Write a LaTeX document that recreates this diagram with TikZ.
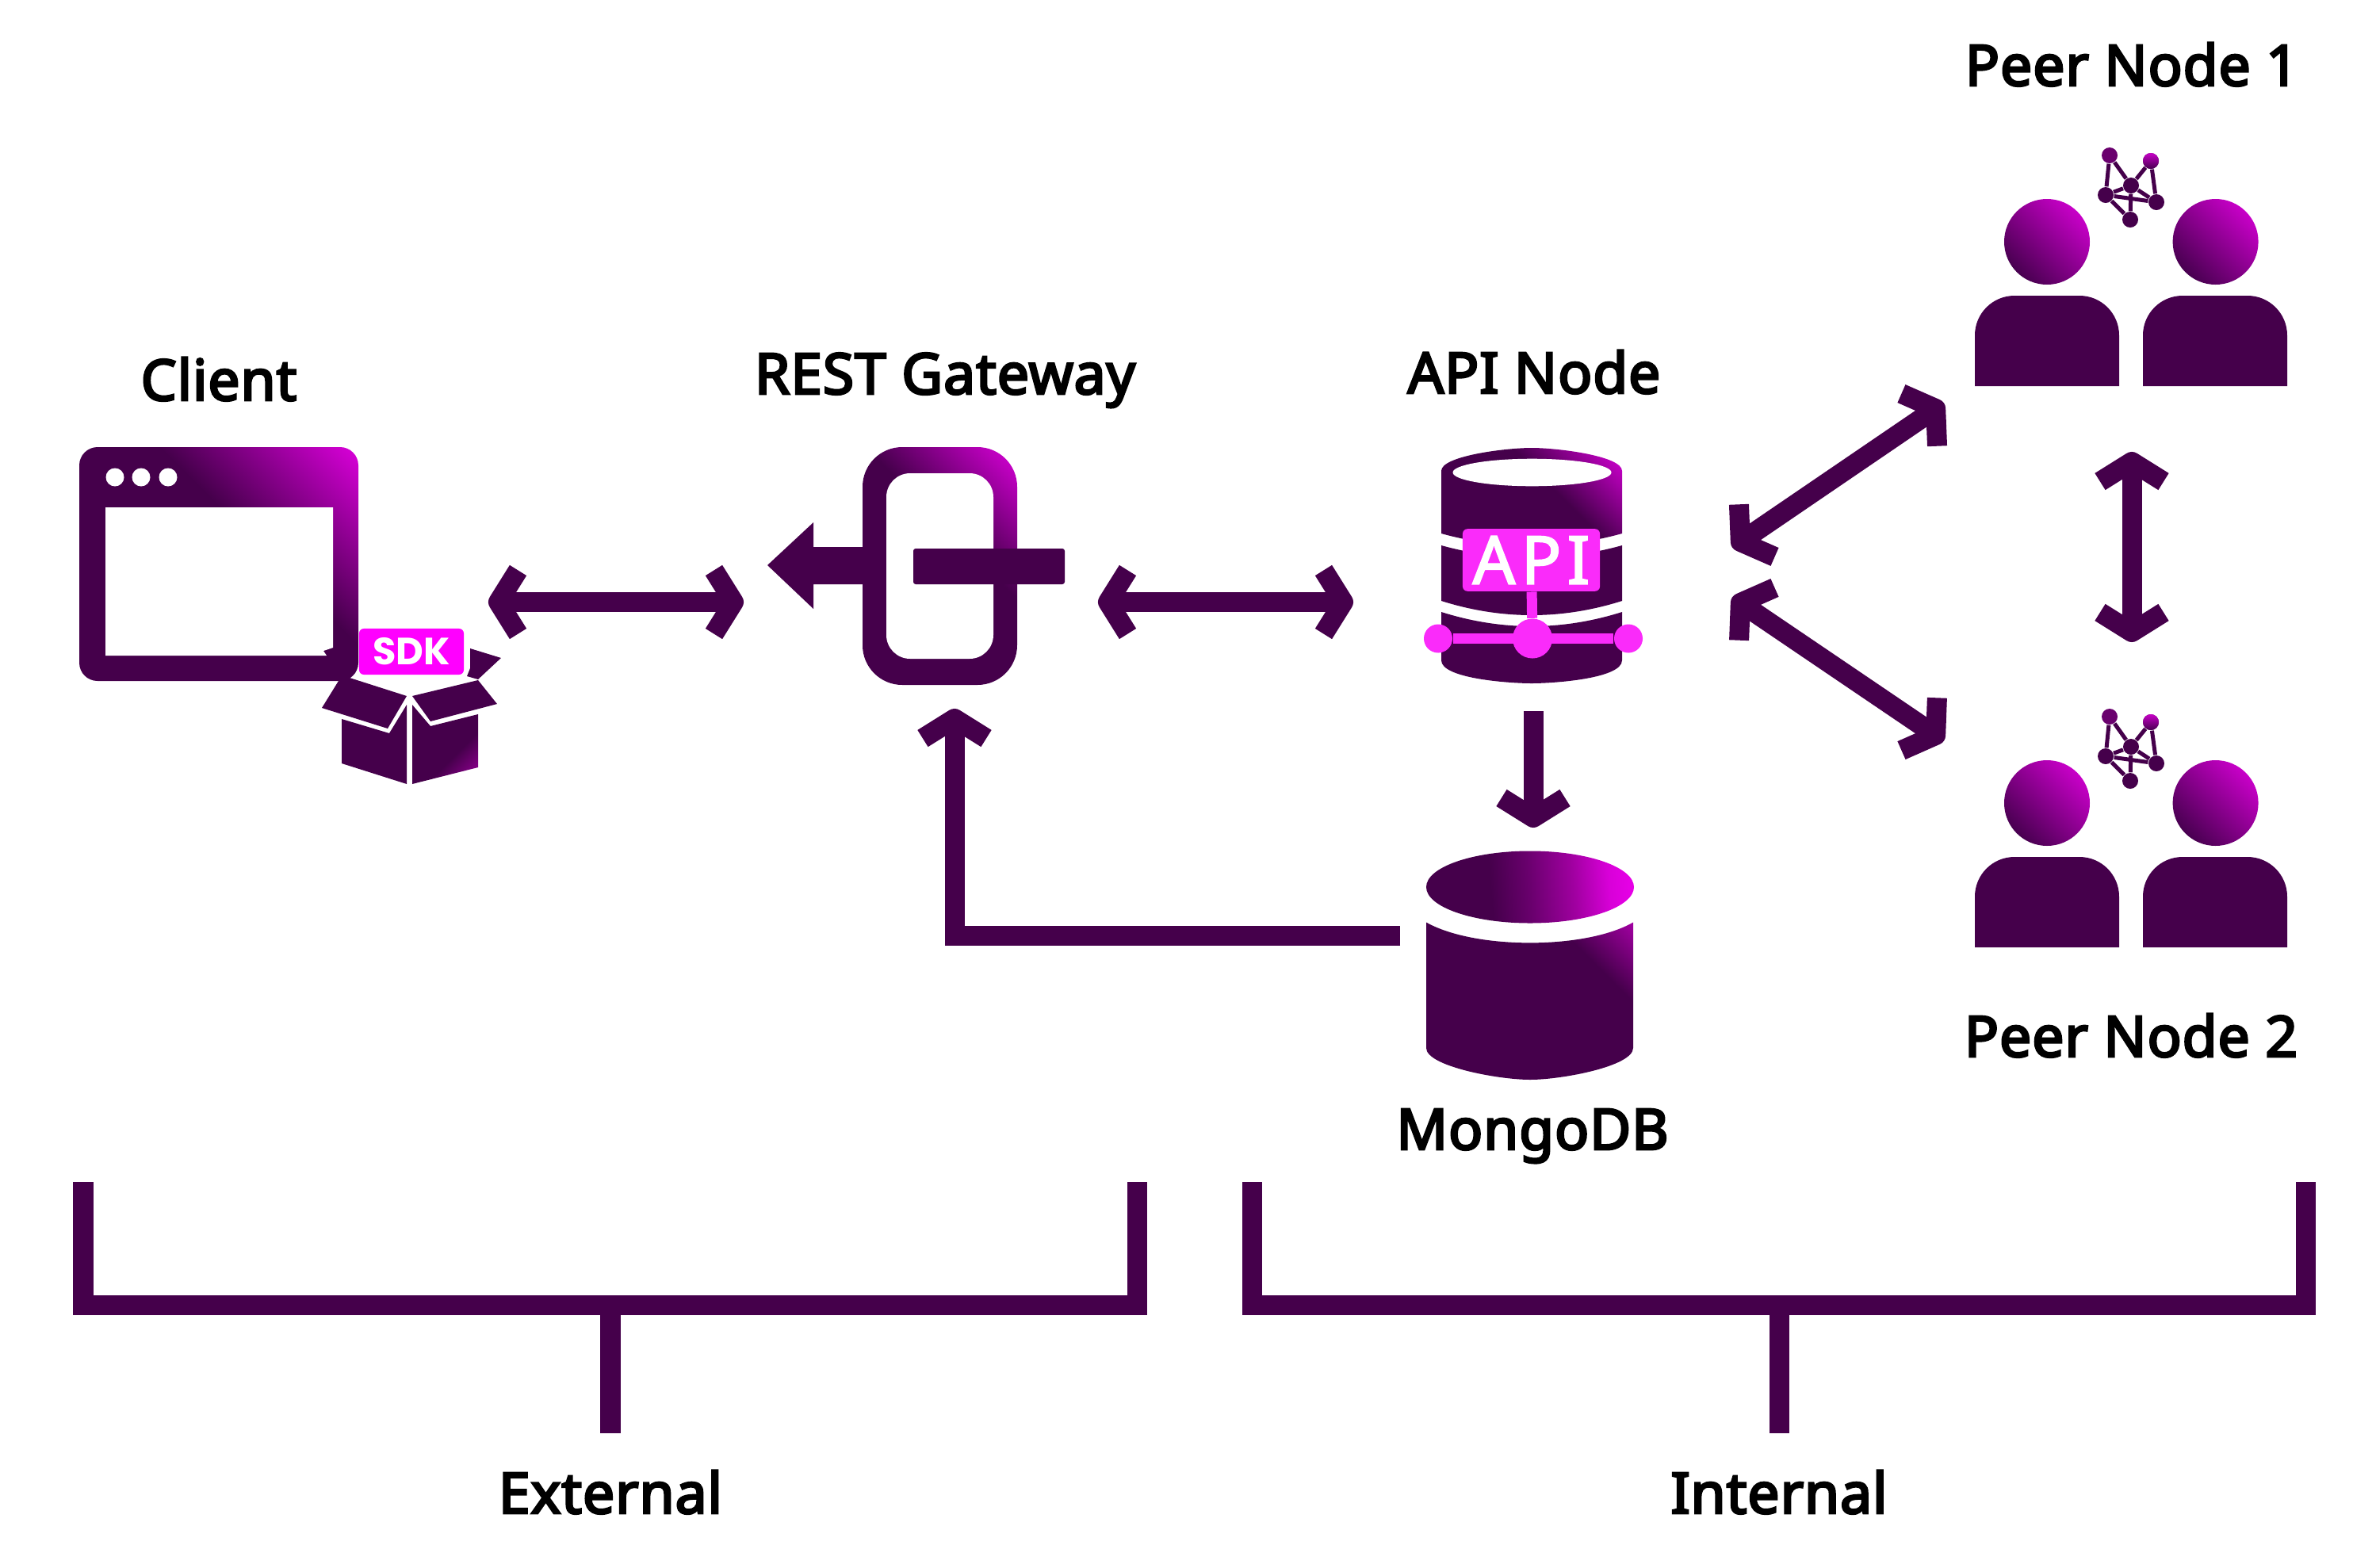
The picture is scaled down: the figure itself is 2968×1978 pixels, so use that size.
\documentclass[tikz,border=0pt]{standalone}
\usepackage{fontspec}
\usepackage{tikz}
\usepackage{xcolor}
\usetikzlibrary{arrows.meta,shapes.geometric}
\setmainfont{Noto Sans}[FakeBold=4,LetterSpace=1.3]
\newfontfamily\tagfont{Noto Sans}[FakeBold=2.5,LetterSpace=9]
\newfontfamily\sdkfont{Poppins}
\definecolor{dk}{HTML}{45004B}
\definecolor{hot}{HTML}{FF00FF}
\definecolor{tag}{HTML}{FA2BFA}
\definecolor{glowc}{HTML}{D800D8}
\definecolor{glows}{HTML}{A000A0}
\definecolor{glowh}{HTML}{C800C8}
\definecolor{glowl}{HTML}{480050}
\definecolor{midp}{HTML}{6A006E}
\pgfdeclareverticalshading{cornerglow}{100bp}{color(0bp)=(dk); color(58bp)=(dk); color(85bp)=(glowc); color(100bp)=(hot)}
\pgfdeclareverticalshading{softglow}{100bp}{color(0bp)=(dk); color(60bp)=(dk); color(85bp)=(glows); color(100bp)=(glows)}
\pgfdeclareverticalshading{rimglow}{100bp}{color(0bp)=(dk); color(70bp)=(dk); color(85bp)=(glows); color(100bp)=(glows)}
\pgfdeclareverticalshading{headglow}{100bp}{color(0bp)=(glowl); color(25bp)=(glowl); color(75bp)=(glowh); color(100bp)=(hot)}
\pgfdeclareverticalshading{discglow}{100bp}{color(0bp)=(dk); color(40bp)=(dk); color(50bp)=(midp); color(61bp)=(glows); color(70bp)=(glowc); color(85bp)=(hot); color(100bp)=(hot)}
\tikzstyle{captxt} = [anchor=base, font=\fontsize{20.3}{24}\selectfont, inner sep=0pt]
\tikzstyle{link} = [draw=dk, line width=2.5mm]
\tikzstyle{rim} = [draw=dk, line width=2.5mm, line join=miter]
\tikzstyle{netdot} = [circle, fill=dk, minimum size=2mm, inner sep=0pt]
\tikzstyle{busdot} = [circle, fill=tag, inner sep=0pt]
\tikzstyle{corner} = [shading=cornerglow, shading angle=-45]

\begin{document}
\begin{tikzpicture}[x=0.01cm,y=-0.01cm,>={Straight Barb[length=2.5mm,width=8mm,line width=2.5mm,line join=round]}]
  \useasboundingbox (0,0) rectangle (2968,1978);

  % labels
  \node[captxt] (client_lbl) at (276,505) {Client};
  \node[captxt] (gateway_lbl) at (1192,497) {REST Gateway};
  \node[captxt] (api_lbl) at (1935,496) {API Node};
  \node[captxt] (mongo_lbl) at (1933,1450) {MongoDB};
  \node[captxt] (peer1_lbl) at (2689,108) {Peer Node 1};
  \node[captxt] (peer2_lbl) at (2688,1333) {Peer Node 2};
  \node[captxt] (external_lbl) at (770,1909) {External};
  \node[captxt] (internal_lbl) at (2244,1909) {Internal};

  % client window
  \shade[corner, rounded corners=2.3mm] (100,564) rectangle (452,859);
  \fill[white] (133,640) -- (420,640) -- (420,817) -- (408,821) -- (412,827) -- (133,827) -- cycle;
  \foreach \px in {145,178,212}
    \fill[white] (\px,602) circle [radius=11.5];

  % sdk box
  \node[fill=hot, text=white, rounded corners=0.6mm, minimum width=13.2mm, minimum height=5.8mm, inner sep=0pt,
    font=\sdkfont\bfseries\fontsize{13.6}{14}\selectfont] (sdk) at (519,822) {SDK};
  \fill[dk] (427,859) -- (441,855) -- (513,878) -- (489,919) -- (406,893) -- cycle;
  \fill[dk] (520,878) -- (603,858) -- (627,888) -- (543,910) -- cycle;
  \fill[dk] (593,818) -- (632,830) -- (603,857) -- (589,853) -- (593,843) -- cycle;
  \fill[dk] (431,907) -- (491,925) -- (513,889) -- (513,989) -- (431,963) -- cycle;
  \shade[shading=softglow, shading angle=-135] (520,889) -- (543,916) -- (603,901) -- (603,968) -- (520,989) -- cycle;

  % gateway
  \fill[dk] (968,713) -- (1026,659) -- (1026,690) -- (1118,690) -- (1118,737) -- (1026,737) -- (1026,768) -- cycle;
  \shade[corner, rounded corners=5mm] (1088,564) rectangle (1283,864);
  \fill[white, rounded corners=3mm] (1118,597) rectangle (1253,831);
  \fill[dk, rounded corners=0.3mm] (1152,692) rectangle (1343,737);

  % api node
  \shade[corner] (1818,594) .. controls (1818,575) and (1900,565) .. (1932,565)
    .. controls (1964,565) and (2046,575) .. (2046,594) -- (2046,673)
    .. controls (1970,694) and (1894,694) .. (1818,673) -- cycle;
  \fill[white] (1932.5,596) ellipse [x radius=100, y radius=17.3];
  \fill[dk] (1818,688) .. controls (1894,709) and (1970,709) .. (2046,688) -- (2046,758)
    .. controls (1970,782) and (1894,782) .. (1818,758) -- cycle;
  \fill[dk] (1818,772) .. controls (1894,796) and (1970,796) .. (2046,772) -- (2046,833)
    .. controls (2046,856) and (1960,862) .. (1932,862) .. controls (1904,862) and (1818,856) .. (1818,833) -- cycle;
  \node[fill=tag, text=white, rounded corners=0.6mm, minimum width=17.3mm, minimum height=7.85mm, inner sep=0pt,
    font=\tagfont\fontsize{23.8}{24}\selectfont] (api_tag) at (1931.5,706.5) {API};
  \node[busdot, minimum size=3.6mm] (bus_l) at (1814,805.5) {};
  \node[busdot, minimum size=3.6mm] (bus_r) at (2054,805.5) {};
  \node[busdot, minimum size=5mm] (bus_c) at (1933,805.5) {};
  \draw[tag, line width=1.25mm] (bus_l) -- (bus_r);
  \draw[tag, line width=1.3mm] (api_tag) -- (bus_c);

  % mongodb
  \shade[shading=discglow, shading angle=-85] (1930,1119) ellipse [x radius=131, y radius=45.5];
  \shade[shading=rimglow, shading angle=-45] (1799,1163.5) .. controls (1860,1198) and (2000,1198) .. (2060,1163.5) -- (2060,1322)
    .. controls (2060,1345) and (1970,1362) .. (1930,1362) .. controls (1890,1362) and (1799,1345) .. (1799,1322) -- cycle;

  % peers
  \foreach \dy/\pn in {0/a,708/b} {
    \begin{scope}[yshift={-\dy*0.01cm}]
      \shade[shading=headglow, shading angle=-45] (2582,305) circle [radius=54];
      \shade[shading=headglow, shading angle=-45] (2794.6,305) circle [radius=54];
      \fill[dk] (2491,487) [rounded corners=5mm] -- (2491,373) -- (2673,373) [sharp corners] -- (2673,487) -- cycle;
      \fill[dk] (2703,487) [rounded corners=5mm] -- (2703,373) -- (2885,373) [sharp corners] -- (2885,487) -- cycle;
      \node[netdot, fill=midp] (\pn1) at (2661,196) {};
      \node[netdot, shading=headglow, shading angle=0] (\pn2) at (2713,203) {};
      \node[netdot] (\pn3) at (2688,234) {};
      \node[netdot] (\pn4) at (2656,246) {};
      \node[netdot] (\pn5) at (2720,255) {};
      \node[netdot] (\pn6) at (2687,277) {};
      \foreach \ns/\ne in {1/4,1/3,2/3,2/5,3/4,3/5,3/6,4/5,4/6}
        \draw[dk, line width=0.5mm] (\pn\ns) -- (\pn\ne);
    \end{scope}
  }

  % connector ends
  \coordinate (cl_r) at (616,759.5);
  \coordinate (gw_w) at (938,759.5);
  \coordinate (gw_e) at (1385,759.5);
  \coordinate (api_w) at (1707,759.5);
  \coordinate (api_s) at (1934,897);
  \coordinate (mg_n) at (1934,1044);
  \coordinate (mg_w) at (1766,1180.5);
  \coordinate (gw_s) at (1204,894);
  \coordinate (api_e1) at (2185,690.5);
  \coordinate (p1_s) at (2452,508.5);
  \coordinate (api_e2) at (2185,753.5);
  \coordinate (p2_n) at (2452,934.5);
  \coordinate (p1_b) at (2689,570);
  \coordinate (p2_t) at (2689,810);

  \path[link] (cl_r) edge[<->] (gw_w);
  \path[link] (gw_e) edge[<->] (api_w);
  \path[link] (api_s) edge[->] (mg_n);
  \path[link] (api_e1) edge[<->] (p1_s);
  \path[link] (api_e2) edge[<->] (p2_n);
  \path[link] (p1_b) edge[<->] (p2_t);
  \draw[link,->] (mg_w) -| (gw_s);

  % brackets
  \coordinate (ext_l) at (105,1491);
  \coordinate (ext_r) at (1434.3,1491);
  \coordinate (ext_m) at (770,1646.5);
  \coordinate (ext_e) at (770,1808);
  \coordinate (int_l) at (1579,1491);
  \coordinate (int_r) at (2908.5,1491);
  \coordinate (int_m) at (2244,1646.5);
  \coordinate (int_e) at (2244,1808);
  \draw[rim] (ext_l) |- (ext_m) -| (ext_r);
  \draw[rim] (int_l) |- (int_m) -| (int_r);
  \path[link] (ext_m) edge (ext_e);
  \path[link] (int_m) edge (int_e);
\end{tikzpicture}
\end{document}
